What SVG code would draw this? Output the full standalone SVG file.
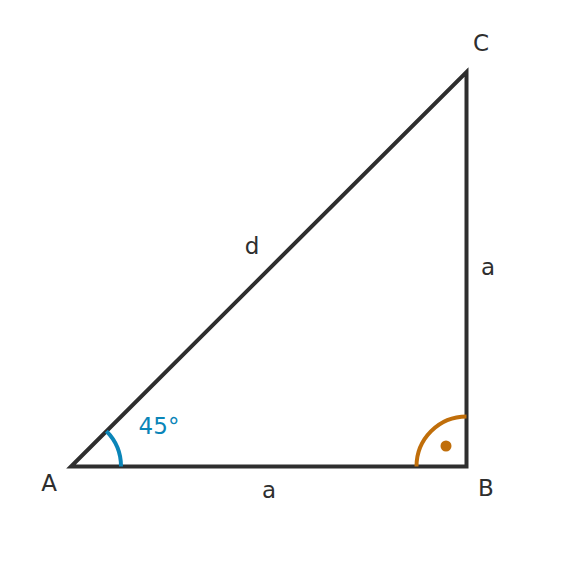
<svg xmlns="http://www.w3.org/2000/svg" width="576" height="574" viewBox="0 0 576 574">
<style>
.lbl{font-family:"DejaVu Sans",sans-serif;font-size:23px;fill:#2e2e2e;text-anchor:middle;dominant-baseline:central}
.edge{stroke:#2e2e2e;stroke-width:4;fill:none;stroke-linecap:round;stroke-linejoin:miter}
</style>
<rect width="576" height="574" fill="#fff"/>
<g id="connectors">
<path class="edge" d="M71,466.5 L466.5,466.5 L466.5,72 Z"/>
</g>
<g id="angleA">
<path d="M121,466.5 A50,50 0 0 0 106.4,431.1" stroke="#0a85b8" stroke-width="4" fill="none"/>
<text class="lbl" x="159" y="426" style="fill:#0a85b8">45°</text>
</g>
<g id="angleB">
<path d="M416.5,466.5 A50,50 0 0 1 466.5,416.5" stroke="#c06e0a" stroke-width="4" fill="none"/>
<circle cx="446" cy="446" r="5.5" fill="#c06e0a"/>
</g>
<g id="A"><text class="lbl" x="49" y="483">A</text></g>
<g id="B"><text class="lbl" x="486" y="488">B</text></g>
<g id="C"><text class="lbl" x="481" y="43">C</text></g>
<g id="labels">
<text class="lbl" x="252" y="246">d</text>
<text class="lbl" x="488" y="267">a</text>
<text class="lbl" x="269" y="490">a</text>
</g>
</svg>
